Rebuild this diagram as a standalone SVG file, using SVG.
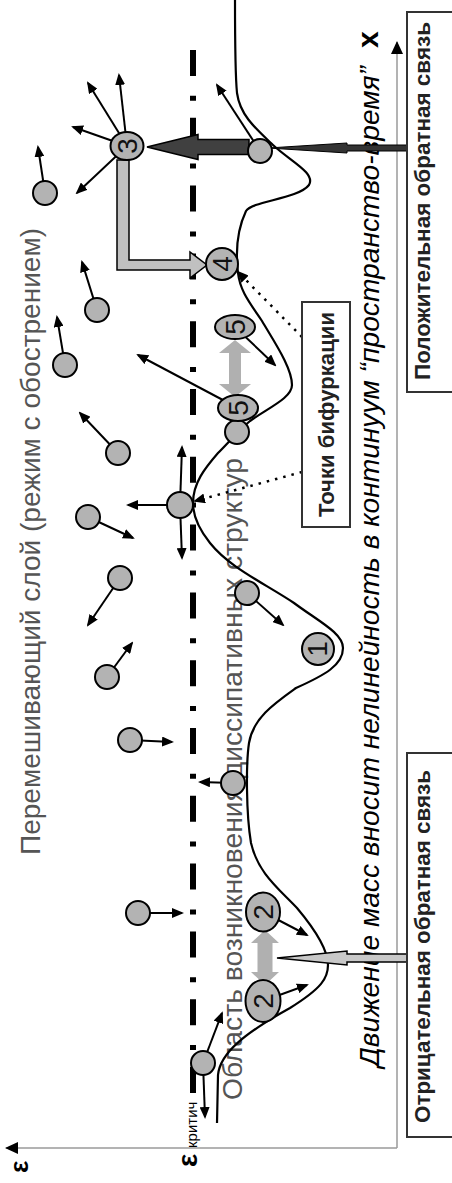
<svg xmlns="http://www.w3.org/2000/svg" width="452" height="1183" viewBox="0 0 452 1183">
<defs>
<marker id="ah" viewBox="0 0 12 10" refX="10" refY="5" markerWidth="12" markerHeight="10" markerUnits="userSpaceOnUse" orient="auto"><path d="M0,0 L12,5 L0,10 z" fill="#000"/></marker>
<marker id="axh" viewBox="0 0 13 12" refX="12" refY="6" markerWidth="13" markerHeight="12" markerUnits="userSpaceOnUse" orient="auto"><path d="M0,0 L13,6 L0,12 z" fill="#000"/></marker>
</defs>
<style>
.ball{fill:#b3b3b3;stroke:#000;stroke-width:2}
.arr{stroke:#000;stroke-width:2;fill:none;marker-end:url(#ah)}
.dot{stroke:#000;stroke-width:2.5;fill:none;stroke-dasharray:2.5 6;marker-end:url(#ah)}
.num{font-family:"Liberation Sans",Arial,sans-serif;font-size:28px;text-anchor:middle;fill:#111}
.lbl{font-family:"Liberation Sans",Arial,sans-serif;font-size:28px;fill:#555}
.box{fill:#fff;stroke:#333;stroke-width:2}
.btxt{font-family:"Liberation Sans",Arial,sans-serif;font-size:22px;font-weight:bold;fill:#222;text-anchor:middle}
.axis{stroke:#9a9a9a;stroke-width:1.5;fill:none;marker-end:url(#axh)}
.gdbl{fill:#b0b0b0;stroke:none}
</style>
<rect width="452" height="1183" fill="#fff"/>
<g transform="translate(0,1183) rotate(-90)">
  <g id="axes">
    <line class="axis" x1="35" y1="397" x2="35" y2="6"/>
    <line class="axis" x1="35" y1="397" x2="1141" y2="397"/>
    <text x="10" y="28" font-family="Liberation Sans, Arial, sans-serif" font-size="26" font-weight="bold">ε</text>
    <text x="1135" y="378" font-family="Liberation Sans, Arial, sans-serif" font-size="30" font-weight="bold">x</text>
  </g>
  <g id="critical-line">
    <line x1="90" y1="193" x2="1137" y2="193" stroke="#000" stroke-width="6" stroke-dasharray="26 17 5 19.8"/>
    <text x="16" y="197" font-family="Liberation Sans, Arial, sans-serif" font-size="28" font-weight="bold">ε</text>
    <text x="35" y="197" font-family="Liberation Sans, Arial, sans-serif" font-size="15">критич</text>
  </g>
  <g id="texts">
    <text class="lbl" x="328" y="40" textLength="627" lengthAdjust="spacingAndGlyphs">Перемешивающий слой (режим с обострением)</text>
    <text class="lbl" x="83" y="242" textLength="642" lengthAdjust="spacingAndGlyphs">Область возникновения диссипативных структур</text>
    <text x="116" y="379" font-family="Liberation Sans, Arial, sans-serif" font-size="28" font-style="italic" fill="#000" textLength="1001" lengthAdjust="spacingAndGlyphs">Движение масс вносит нелинейность в континуум “пространство-время”</text>
  </g>
  <g id="curve">
    <path d="M60,217 L108,218 C130,220 150,245 175,290 C195,322 205,328 218,328 C232,328 250,318 275,297 C295,278 310,258 340,251 C370,246 420,246 440,249 C465,253 480,275 495,296 C508,325 518,343 535,343 C550,343 562,318 580,294 C600,264 615,230 640,210 C655,198 668,193 680,193 C700,193 715,205 730,218 C742,230 752,238 762,250 C775,268 785,292 798,292 C815,292 840,275 862,262 C880,250 892,240 910,238 C935,235 955,238 972,246 C982,252 984,298 998,309 C1010,316 1022,290 1038,273 C1055,255 1068,240 1090,237 C1110,235 1150,235 1183,235" fill="none" stroke="#000" stroke-width="2.2"/>
  </g>
  <g id="connectors">
    <line class="arr" x1="990" y1="45" x2="1036" y2="38"/>
    <line class="arr" x1="873" y1="97" x2="921" y2="82"/>
    <line class="arr" x1="818" y1="65" x2="866" y2="57"/>
    <line class="arr" x1="730" y1="118" x2="770" y2="80"/>
    <line class="arr" x1="666" y1="88" x2="645" y2="133"/>
    <line class="arr" x1="605" y1="120" x2="558" y2="88"/>
    <line class="arr" x1="506" y1="107" x2="540" y2="132"/>
    <line class="arr" x1="443" y1="130" x2="441" y2="172"/>
    <line class="arr" x1="270" y1="138" x2="270" y2="182"/>
    <line class="arr" x1="1032" y1="260" x2="1098" y2="217"/>
    <line class="arr" x1="678" y1="180" x2="736" y2="182"/>
    <line class="arr" x1="678" y1="180" x2="625" y2="182"/>
    <line class="arr" x1="678" y1="180" x2="678" y2="128"/>
    <line class="arr" x1="590" y1="247" x2="558" y2="283"/>
    <line class="arr" x1="400" y1="233" x2="401" y2="200"/>
    <line class="arr" x1="120" y1="203" x2="170" y2="222"/>
    <line class="arr" x1="120" y1="203" x2="66" y2="205"/>
    <line class="arr" x1="1037" y1="127" x2="1056" y2="73"/>
    <line class="arr" x1="1037" y1="127" x2="1100" y2="88"/>
    <line class="arr" x1="1037" y1="127" x2="1108" y2="119"/>
    <line class="arr" x1="1037" y1="127" x2="990" y2="77"/>
    <line class="arr" x1="856" y1="235" x2="818" y2="275"/>
    <line class="arr" x1="775" y1="238" x2="828" y2="138"/>
    <line class="arr" x1="271" y1="263" x2="248" y2="307"/>
    <line class="arr" x1="182" y1="263" x2="198" y2="307"/>
    <line class="dot" x1="846" y1="302" x2="911" y2="238"/>
    <line class="dot" x1="711" y1="302" x2="682" y2="195"/>
    <polygon points="221,410 221,347 218,347 225,277 232,347 229,347 229,410" fill="#c8c8c8" stroke="#000" stroke-width="1.5"/>
    <polygon points="1032,410 1032,347 1030,347 1035,268 1040,347 1038,347 1038,410" fill="#333" stroke="#000" stroke-width="1"/>
    <polygon points="1028.5,249 1028.5,198 1023.5,198 1036,147 1048.5,198 1043.5,198 1043.5,249" fill="#404040" stroke="#000" stroke-width="1.5"/>
    <polygon points="1023,117 913,117 913,190 905,190 918,207 931,190 923,190 923,129 1023,129" fill="#c0c0c0" stroke="#000" stroke-width="1.5"/>
    <polygon class="gdbl" points="786,235 799,219 799,229 830,229 830,219 843,235 830,251 830,241 799,241 799,251"/>
    <polygon class="gdbl" points="198,265 211,251 211,257.5 240,257.5 240,251 253,265 240,279 240,272.5 211,272.5 211,279"/>
  </g>
  <g id="plain-balls">
    <circle class="ball" cx="990" cy="45" r="12"/>
    <circle class="ball" cx="873" cy="97" r="12"/>
    <circle class="ball" cx="818" cy="65" r="12"/>
    <circle class="ball" cx="730" cy="118" r="12"/>
    <circle class="ball" cx="666" cy="88" r="12"/>
    <circle class="ball" cx="605" cy="120" r="12"/>
    <circle class="ball" cx="506" cy="107" r="12"/>
    <circle class="ball" cx="443" cy="130" r="12"/>
    <circle class="ball" cx="270" cy="138" r="12"/>
    <circle class="ball" cx="1032" cy="260" r="12"/>
    <circle class="ball" cx="678" cy="180" r="13"/>
    <circle class="ball" cx="751" cy="237" r="12"/>
    <circle class="ball" cx="590" cy="247" r="12"/>
    <circle class="ball" cx="400" cy="233" r="12"/>
    <circle class="ball" cx="120" cy="203" r="12"/>
  </g>
  <g id="ball-3"><ellipse class="ball" cx="1037" cy="127" rx="14" ry="16.5"/><text class="num" x="1037" y="137">3</text></g>
  <g id="ball-4"><circle class="ball" cx="919" cy="222" r="16"/><text class="num" x="919" y="232">4</text></g>
  <g id="ball-5a"><ellipse class="ball" cx="856" cy="235" rx="12" ry="20"/><text class="num" x="856" y="245">5</text></g>
  <g id="ball-5b"><ellipse class="ball" cx="775" cy="238" rx="13" ry="20"/><text class="num" x="775" y="248">5</text></g>
  <g id="ball-1"><circle class="ball" cx="534" cy="318" r="16"/><text class="num" x="534" y="327" font-size="25">1</text></g>
  <g id="ball-2a"><ellipse class="ball" cx="271" cy="263" rx="19.5" ry="17"/><text class="num" x="271" y="273">2</text></g>
  <g id="ball-2b"><ellipse class="ball" cx="182" cy="263" rx="21" ry="17.5"/><text class="num" x="182" y="273">2</text></g>
  <g id="box-bifurcation"><rect class="box" x="656" y="302" width="225" height="48"/><text class="btxt" x="768.5" y="334" textLength="205" lengthAdjust="spacingAndGlyphs">Точки бифуркации</text></g>
  <g id="box-negative"><rect class="box" x="46" y="407" width="384" height="70"/><text class="btxt" x="236.5" y="430" textLength="353" lengthAdjust="spacingAndGlyphs">Отрицательная обратная связь</text></g>
  <g id="box-positive"><rect class="box" x="791" y="407" width="380" height="70"/><text class="btxt" x="982" y="430" textLength="358" lengthAdjust="spacingAndGlyphs">Положительная обратная связь</text></g>
</g>
</svg>
